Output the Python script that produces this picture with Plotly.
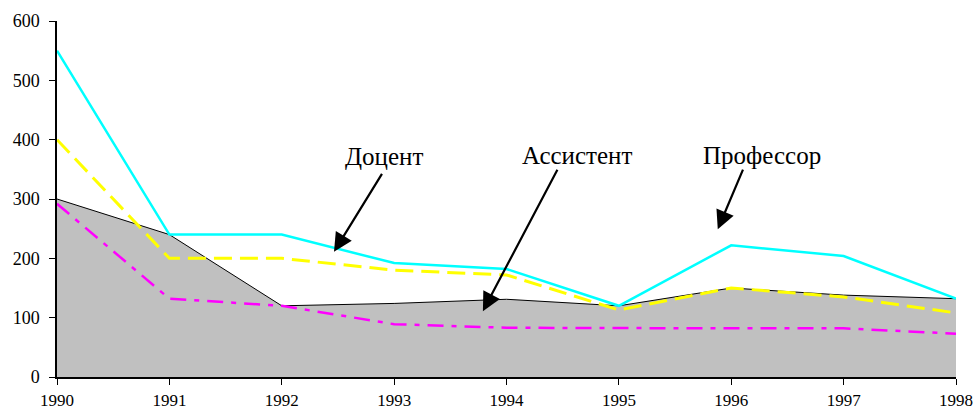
import plotly.graph_objects as go

years = [1990, 1991, 1992, 1993, 1994, 1995, 1996, 1997, 1998]
assistant = [300, 240, 120, 124, 131, 120, 150, 138, 132]   # gray area
professor = [550, 240, 240, 192, 182, 120, 222, 204, 132]   # cyan
docent = [400, 200, 200, 180, 172, 113, 150, 135, 108]      # yellow dashed
other = [292, 132, 120, 89, 83, 82, 82, 82, 73]             # magenta dash-dot

y_ticks = [0, 100, 200, 300, 400, 500, 600]

FONT = "Liberation Serif, Times New Roman, serif"

fig = go.Figure()
fig.add_trace(go.Scatter(x=years, y=assistant, mode="lines", fill="tozeroy",
                         fillcolor="#C0C0C0", line=dict(color="black", width=1),
                         showlegend=False))
fig.add_trace(go.Scatter(x=years, y=professor, mode="lines",
                         line=dict(color="#00FFFF", width=2.5), showlegend=False))
fig.add_trace(go.Scatter(x=years, y=docent, mode="lines",
                         line=dict(color="#FFFF00", width=3, dash="18px,8px"),
                         showlegend=False))
fig.add_trace(go.Scatter(x=years, y=other, mode="lines",
                         line=dict(color="#FF00FF", width=2.5, dash="16px,8px,5px,8px"),
                         showlegend=False))

labels = [
    ("Доцент", 1992.91, 371, 1992.90, 345, 1992.465, 211),
    ("Ассистент", 1994.63, 374, 1994.46, 352, 1993.79, 111),
    ("Профессор", 1996.27, 374, 1996.11, 352, 1995.88, 249),
]
for text, tx, ty, ax, ay, hx, hy in labels:
    fig.add_annotation(x=tx, y=ty, text=text, showarrow=False,
                       font=dict(family=FONT, size=25, color="black"),
                       xanchor="center", yanchor="middle")
    fig.add_annotation(x=hx, y=hy, ax=ax, ay=ay, axref="x", ayref="y",
                       xref="x", yref="y", text="", showarrow=True,
                       arrowhead=2, arrowsize=1.7, arrowwidth=2.2, arrowcolor="black")

fig.update_layout(
    width=977, height=412,
    margin=dict(l=57, r=21, t=21, b=35),
    paper_bgcolor="white", plot_bgcolor="white",
    font=dict(family=FONT, size=18, color="black"),
)
fig.update_xaxes(range=[1990, 1998], tickvals=years, ticktext=[str(y) for y in years],
                 showgrid=False, zeroline=False, showline=True, linecolor="black",
                 linewidth=1.5, ticks="outside", ticklen=6, tickcolor="black",
                 tickfont=dict(family=FONT, size=17), automargin=False,
                 ticklabelstandoff=1)
fig.update_yaxes(range=[0, 600], tickvals=y_ticks, showgrid=False, zeroline=False,
                 showline=True, linecolor="black", linewidth=1.5, ticks="outside",
                 ticklen=6, tickcolor="black", tickfont=dict(family=FONT, size=18),
                 automargin=False, ticklabelstandoff=6)

fig.write_html("out.html", config={"displayModeBar": False},
               post_script="document.body.style.margin='0';")
